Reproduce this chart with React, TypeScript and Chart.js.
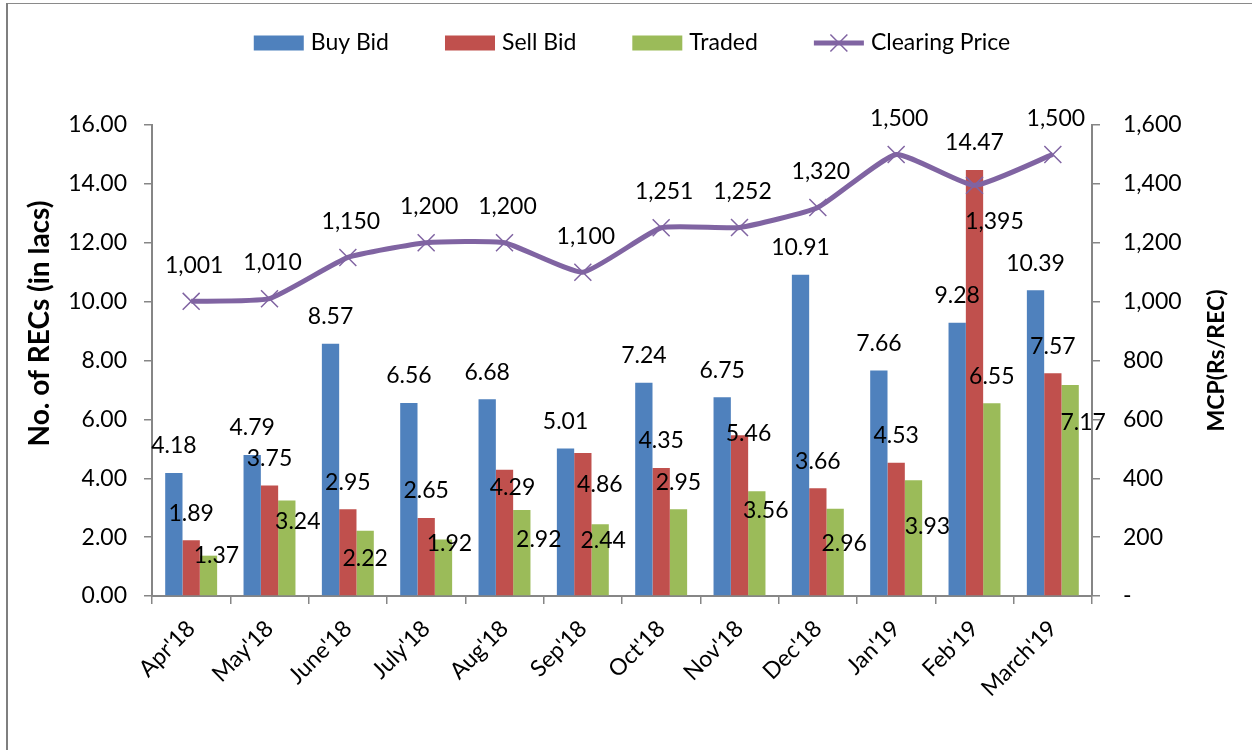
import React, { useEffect, useRef } from 'react';
import { Chart, registerables } from 'chart.js';

Chart.register(...registerables);

// ---------- data ----------
const months = ["Apr'18", "May'18", "June'18", "July'18", "Aug'18", "Sep'18", "Oct'18", "Nov'18", "Dec'18", "Jan'19", "Feb'19", "March'19"];
const buyBid = [4.18, 4.79, 8.57, 6.56, 6.68, 5.01, 7.24, 6.75, 10.91, 7.66, 9.28, 10.39];
const sellBid = [1.89, 3.75, 2.95, 2.65, 4.29, 4.86, 4.35, 5.46, 3.66, 4.53, 14.47, 7.57];
const traded = [1.37, 3.24, 2.22, 1.92, 2.92, 2.44, 2.95, 3.56, 2.96, 3.93, 6.55, 7.17];
const clearingPrice = [1001, 1010, 1150, 1200, 1200, 1100, 1251, 1252, 1320, 1500, 1395, 1500];

const seriesNames = ['Buy Bid', 'Sell Bid', 'Traded', 'Clearing Price'];
const leftAxisTitle = 'No. of RECs (in lacs)';
const rightAxisTitle = 'MCP(Rs/REC)';

// ---------- styles ----------
const FONT = 'Lato, "Open Sans", "DejaVu Sans", sans-serif';
const BLUE = '#4F81BD';
const RED = '#C0504D';
const GREEN = '#9BBB59';
const PURPLE = '#8064A2';
const AXIS = '#868686';

// label placement (pixel offsets from bar top / point), as hand-placed in the original
const D = [0, -27];
const buyLabelOffsets = [D, D, D, D, D, D, D, D, D, D, D, D];
const sellLabelOffsets = [D, D, D, D, [8, 18], [17, 32], D, [9, -2], D, D, D, D];
const tradedLabelOffsets = [[8, 0], [11, 21], [0, 28], [6, 4], [17, 30], [3, 16], D, [9, 19], [9, 35], [14, 46], D, [13, 38]];
const P = [3, -36];
const priceLabelOffsets = [P, P, P, P, P, P, P, P, P, P, [20, 36], P];

const fmt2 = (v: number) => v.toFixed(2);
const fmtComma = (v: number) => v.toLocaleString('en-US');

const labelSpecs = [
  { offsets: buyLabelOffsets, fmt: fmt2 },
  { offsets: sellLabelOffsets, fmt: fmt2 },
  { offsets: tradedLabelOffsets, fmt: fmt2 },
  { offsets: priceLabelOffsets, fmt: fmtComma },
];

const framePlugin = {
  id: 'frame',
  beforeDraw(chart: any) {
    const { ctx, width, height } = chart;
    ctx.save();
    ctx.fillStyle = '#ffffff';
    ctx.fillRect(0, 0, width, height);
    ctx.fillStyle = '#8a8a8a';
    ctx.fillRect(6, 3, width, 1);
    ctx.fillStyle = '#7f7f7f';
    ctx.fillRect(6, 3, 2, height);
    ctx.restore();
  },
};

const valueLabelPlugin = {
  id: 'valueLabels',
  afterDatasetsDraw(chart: any) {
    const { ctx } = chart;
    ctx.save();
    ctx.font = `23px ${FONT}`;
    ctx.fillStyle = '#000';
    ctx.textAlign = 'center';
    ctx.textBaseline = 'middle';
    chart.data.datasets.forEach((ds: any, di: number) => {
      const spec = labelSpecs[di];
      const meta = chart.getDatasetMeta(di);
      meta.data.forEach((el: any, i: number) => {
        const [dx, dy] = spec.offsets[i];
        ctx.fillText(spec.fmt(ds.data[i]), el.x + dx, el.y + dy);
      });
    });
    ctx.restore();
  },
};

const legendPlugin = {
  id: 'excelLegend',
  afterDraw(chart: any) {
    const { ctx } = chart;
    ctx.save();
    ctx.font = `23px ${FONT}`;
    ctx.textBaseline = 'middle';
    ctx.textAlign = 'left';
    const boxW = 50;
    const boxH = 15;
    const gap = 7;
    const spacing = 56;
    const ds = chart.data.datasets;
    const widths = ds.map((d: any) => boxW + gap + ctx.measureText(d.label).width);
    const total = widths.reduce((a: number, b: number) => a + b, 0) + spacing * (ds.length - 1);
    const centerX = (chart.chartArea.left + chart.chartArea.right) / 2 + 10;
    const cy = 43;
    let x = centerX - total / 2;
    ds.forEach((d: any, i: number) => {
      if (d.type === 'line') {
        ctx.strokeStyle = d.borderColor;
        ctx.lineWidth = 5;
        ctx.beginPath();
        ctx.moveTo(x, cy);
        ctx.lineTo(x + boxW, cy);
        ctx.stroke();
        const r = 12 * Math.SQRT1_2;
        ctx.lineWidth = 1.5;
        ctx.beginPath();
        ctx.moveTo(x + boxW / 2 - r, cy - r);
        ctx.lineTo(x + boxW / 2 + r, cy + r);
        ctx.moveTo(x + boxW / 2 - r, cy + r);
        ctx.lineTo(x + boxW / 2 + r, cy - r);
        ctx.stroke();
      } else {
        ctx.fillStyle = d.backgroundColor;
        ctx.fillRect(x, cy - boxH / 2, boxW, boxH);
      }
      ctx.fillStyle = '#000';
      ctx.fillText(d.label, x + boxW + gap, cy);
      x += widths[i] + spacing;
    });
    ctx.restore();
  },
};

const axisTitlePlugin = {
  id: 'axisTitles',
  afterDraw(chart: any) {
    const { ctx, chartArea } = chart;
    const midY = (chartArea.top + chartArea.bottom) / 2;
    ctx.save();
    ctx.fillStyle = '#000';
    ctx.textAlign = 'center';
    ctx.textBaseline = 'middle';
    ctx.font = `bold 28px ${FONT}`;
    ctx.translate(40, midY - 37);
    ctx.rotate(-Math.PI / 2);
    ctx.fillText(leftAxisTitle, 0, 0);
    ctx.restore();
    ctx.save();
    ctx.fillStyle = '#000';
    ctx.textAlign = 'center';
    ctx.textBaseline = 'middle';
    ctx.font = `bold 23px ${FONT}`;
    ctx.translate(chartArea.right + 125, midY);
    ctx.rotate(-Math.PI / 2);
    ctx.fillText(rightAxisTitle, 0, 0);
    ctx.restore();
  },
};

export default function App() {
  const canvasRef = useRef<HTMLCanvasElement | null>(null);

  useEffect(() => {
    if (!canvasRef.current) return;
    const tickFont = { family: FONT, size: 23 };
    const chart = new Chart(canvasRef.current, {
      type: 'bar',
      data: {
        labels: months,
        datasets: [
          { type: 'bar', label: seriesNames[0], data: buyBid, backgroundColor: BLUE, yAxisID: 'y', order: 1, categoryPercentage: 0.663, barPercentage: 1 } as any,
          { type: 'bar', label: seriesNames[1], data: sellBid, backgroundColor: RED, yAxisID: 'y', order: 1, categoryPercentage: 0.663, barPercentage: 1 } as any,
          { type: 'bar', label: seriesNames[2], data: traded, backgroundColor: GREEN, yAxisID: 'y', order: 1, categoryPercentage: 0.663, barPercentage: 1 } as any,
          {
            type: 'line', label: seriesNames[3], data: clearingPrice, yAxisID: 'y1', order: 0,
            borderColor: PURPLE, backgroundColor: PURPLE, borderWidth: 5, tension: 0.15,
            pointStyle: 'crossRot', pointRadius: 12, pointBorderWidth: 1.5, pointBorderColor: PURPLE,
          } as any,
        ],
      },
      options: {
        animation: false,
        responsive: true,
        maintainAspectRatio: false,
        layout: { padding: { top: 125, left: 0, right: 0, bottom: 0 } },
        plugins: { legend: { display: false }, tooltip: { enabled: false } },
        scales: {
          x: {
            offset: true,
            grid: { offset: true, drawOnChartArea: false, color: AXIS, lineWidth: 1.5, tickLength: 8 },
            border: { color: AXIS, width: 2 },
            ticks: { font: tickFont, color: '#000', maxRotation: 45, minRotation: 45, autoSkip: false, padding: 11 },
            afterFit: (s: any) => { s.height = 154; },
          },
          y: {
            position: 'left', min: 0, max: 16,
            grid: { drawOnChartArea: false, color: AXIS, lineWidth: 1.5, tickLength: 8 },
            border: { color: AXIS, width: 2 },
            ticks: { stepSize: 2, font: tickFont, color: '#000', padding: 17, callback: (v: any) => Number(v).toFixed(2) },
            afterFit: (s: any) => { s.width = 152; },
          },
          y1: {
            position: 'right', min: 0, max: 1600,
            grid: { drawOnChartArea: false, color: AXIS, lineWidth: 1.5, tickLength: 8 },
            border: { color: AXIS, width: 2 },
            ticks: { stepSize: 200, font: tickFont, color: '#000', padding: 23, callback: (v: any) => (Number(v) === 0 ? '-' : Number(v).toLocaleString('en-US')) },
            afterFit: (s: any) => { s.width = 160; },
          },
        },
      } as any,
      plugins: [framePlugin, valueLabelPlugin, legendPlugin, axisTitlePlugin],
    });
    return () => chart.destroy();
  }, []);

  return (
    <div style={{ position: 'fixed', left: 0, top: 0, width: 1252, height: 750, background: '#fff' }}>
      <canvas ref={canvasRef} />
    </div>
  );
}
